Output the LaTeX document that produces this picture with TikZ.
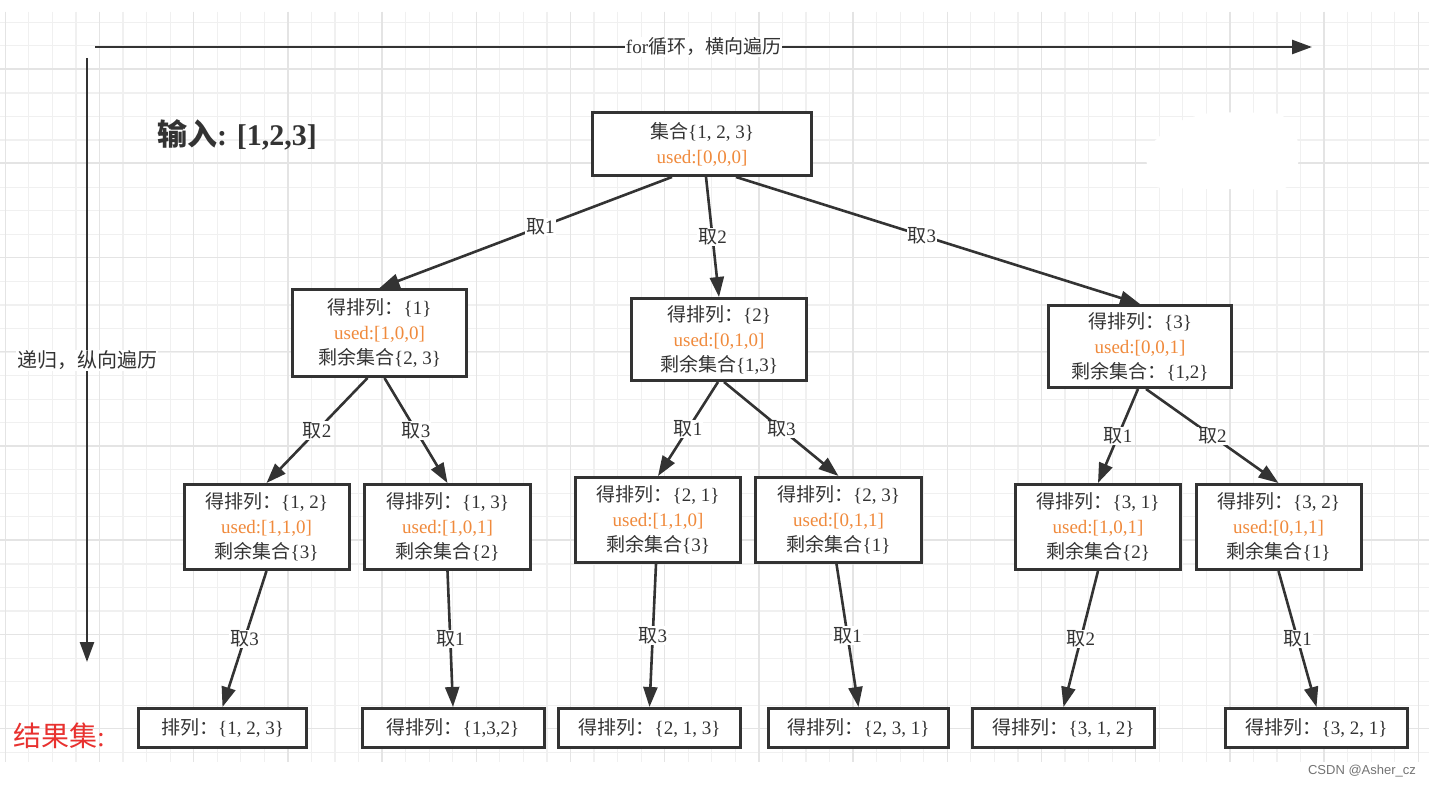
\documentclass[tikz,border=0pt]{standalone}
\usepackage{fontspec}
\setmainfont{Liberation Serif}
\newfontfamily\zh{Noto Sans CJK SC}
\newfontfamily\wm{Liberation Sans}
\usepackage{xcolor}
\usepackage{tikz}
\usetikzlibrary{arrows.meta}
\definecolor{ink}{HTML}{333333}
\definecolor{usedorange}{HTML}{F08A3C}
\definecolor{resred}{HTML}{E8312F}
\definecolor{gridlight}{HTML}{F0F0F0}
\definecolor{griddark}{HTML}{E4E4E4}
\newcommand{\qu}[1]{{\zh 取}#1}
\newcommand{\used}[1]{\textcolor{usedorange}{used:[#1]}}
\tikzset{
  box/.style={draw=ink, fill=white, line width=3pt, align=center, text=ink,
    inner sep=0pt, minimum width=165pt, minimum height=85pt,
    font=\fontsize{19}{25}\selectfont},
  leaf/.style={box, minimum height=39pt},
  link/.style={->, color=ink, line width=2.6pt}
}

\begin{document}
\begin{tikzpicture}[x=1pt, y=-1pt, >={Triangle[length=20pt, width=14pt]}]

\useasboundingbox (0,0) rectangle (1429,786);

% grid
\foreach \i in {0,...,60}
  \draw[gridlight, line width=1.2pt] ({5.3+23.55*\i},11.7) -- ({5.3+23.55*\i},761.7);
\foreach \j in {0,...,31}
  \draw[gridlight, line width=1.2pt] (0,{22.3+23.55*\j}) -- (1429,{22.3+23.55*\j});
\foreach \i in {0,...,15}
  \draw[griddark, line width=1.4pt] ({5.3+94.2*\i},11.7) -- ({5.3+94.2*\i},761.7);
\foreach \j in {0,...,7}
  \draw[griddark, line width=1.4pt] (0,{69+94.2*\j}) -- (1429,{69+94.2*\j});

% erased patch, top right
\fill[white, rounded corners=12pt] (1145,150) -- (1175,122) -- (1210,112) -- (1285,113)
  -- (1302,150) -- (1290,190) -- (1150,188) -- cycle;

\begin{scope}[every node/.style={box}]
  \node[minimum width=219pt, minimum height=63pt] (root) at (702,144) {{\zh 集合}\{1, 2, 3\}\\ \used{0,0,0}};

  \node[minimum width=174pt, minimum height=87pt] (a) at (379.5,333) {{\zh 得排列：}\{1\}\\ \used{1,0,0}\\ {\zh 剩余集合}\{2, 3\}};
  \node[minimum width=175pt, minimum height=82pt] (b) at (719,339.5) {{\zh 得排列：}\{2\}\\ \used{0,1,0}\\ {\zh 剩余集合}\{1,3\}};
  \node[minimum width=183pt, minimum height=82pt] (c) at (1140,346.5) {{\zh 得排列：}\{3\}\\ \used{0,0,1}\\ {\zh 剩余集合：}\{1,2\}};

  \node (ab) at (266.5,527) {{\zh 得排列：}\{1, 2\}\\ \used{1,1,0}\\ {\zh 剩余集合}\{3\}};
  \node[minimum width=166pt] (ac) at (447.5,527) {{\zh 得排列：}\{1, 3\}\\ \used{1,0,1}\\ {\zh 剩余集合}\{2\}};
  \node (ba) at (658,520) {{\zh 得排列：}\{2, 1\}\\ \used{1,1,0}\\ {\zh 剩余集合}\{3\}};
  \node[minimum width=166pt] (bc) at (838.5,520) {{\zh 得排列：}\{2, 3\}\\ \used{0,1,1}\\ {\zh 剩余集合}\{1\}};
  \node (ca) at (1098,527) {{\zh 得排列：}\{3, 1\}\\ \used{1,0,1}\\ {\zh 剩余集合}\{2\}};
  \node (cb) at (1278.5,527) {{\zh 得排列：}\{3, 2\}\\ \used{0,1,1}\\ {\zh 剩余集合}\{1\}};
\end{scope}

\begin{scope}[every node/.style={leaf, minimum width=182pt}]
  \node[minimum width=168pt] (abc) at (222.5,728) {{\zh 排列：}\{1, 2, 3\}};
  \node (acb) at (453,728) {{\zh 得排列：}\{1,3,2\}};
  \node (bac) at (649.5,728) {{\zh 得排列：}\{2, 1, 3\}};
  \node[minimum width=180pt] (bca) at (858.5,728) {{\zh 得排列：}\{2, 3, 1\}};
  \node (cab) at (1063.5,728) {{\zh 得排列：}\{3, 1, 2\}};
  \node (cba) at (1316.5,728) {{\zh 得排列：}\{3, 2, 1\}};
\end{scope}

\coordinate (forL) at (95,47);
\coordinate (forR) at (1312,47);
\coordinate (recT) at (87,58);
\coordinate (recB) at (87,662);

\begin{scope}[every node/.style={fill=white, text=ink, inner sep=1pt, font=\fontsize{19}{22}\selectfont}]
\path[link] (forL) edge node {for{\zh 循环，横向遍历}} (forR);
\path[link] (recT) edge node[font=\fontsize{20}{22}\selectfont] {\zh 递归，纵向遍历} (recB);

\path[link] ([xshift=-30pt]root.south) edge node[pos=0.45] {\qu1} (a.north);
\path[link] ([xshift=4pt]root.south) edge node {\qu2} (b.north);
\path[link] ([xshift=34pt]root.south) edge node[pos=0.46] {\qu3} (c.north);

\path[link] ([xshift=-12pt]a.south) edge node {\qu2} (ab.north);
\path[link] ([xshift=5pt]a.south) edge node {\qu3} (ac.north);
\path[link] ([xshift=-1pt]b.south) edge node {\qu1} (ba.north);
\path[link] ([xshift=5pt]b.south) edge node {\qu3} (bc.north);
\path[link] ([xshift=-2pt]c.south) edge node {\qu1} (ca.north);
\path[link] ([xshift=6pt]c.south) edge node {\qu2} (cb.north);

\path[link] (ab.south) edge node {\qu3} (abc.north);
\path[link] (ac.south) edge node {\qu1} (acb.north);
\path[link] ([xshift=-2pt]ba.south) edge node {\qu3} (bac.north);
\path[link] ([xshift=-2pt]bc.south) edge node {\qu1} (bca.north);
\path[link] (ca.south) edge node {\qu2} (cab.north);
\path[link] (cb.south) edge node {\qu1} (cba.north);
\end{scope}

\node[text=ink, font=\bfseries\fontsize{30}{33}\selectfont] (input) at (237,135) {{\zh 输入}: [1,2,3]};
\node[text=resred, font=\fontsize{28}{30}\selectfont] (result) at (59,736) {{\zh 结果集}:};
\node[text=black!55, font=\wm\fontsize{13}{15}\selectfont] (mark) at (1362,771) {CSDN @Asher\_cz};

\end{tikzpicture}
\end{document}
